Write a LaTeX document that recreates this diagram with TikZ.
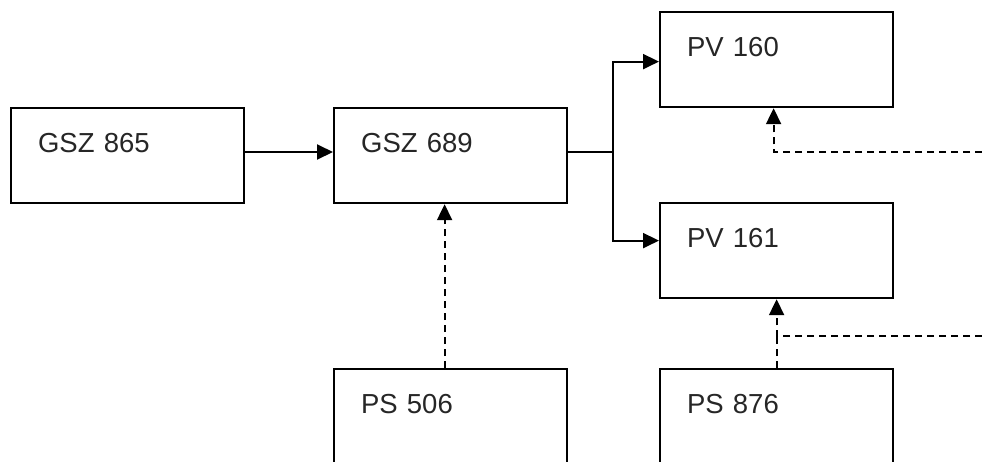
\documentclass[tikz,border=0pt]{standalone}
\usepackage{fontspec}
\setmainfont{Liberation Sans}
\usetikzlibrary{arrows.meta}
\begin{document}
\begin{tikzpicture}[x=1pt,y=-1pt,
  box/.style={draw, line width=2.2pt, anchor=north west, inner xsep=27pt, inner ysep=0pt,
    text width=179pt, align=left, text height=44pt, text depth=51pt,
    font=\fontsize{27.5pt}{27.5pt}\selectfont, text=black!85},
  tallbox/.style={box, text depth=100pt},
  conn/.style={line width=2pt, -{Triangle[length=16pt,width=15pt]}},
  dconn/.style={conn, dash pattern=on 7pt off 5pt},
  dline/.style={line width=2pt, dash pattern=on 7pt off 5pt}]
\useasboundingbox (0,0) rectangle (982,461);
\clip (0,0) rectangle (982,461);
\fill[white] (0,0) rectangle (982,461);
\node[box] (g865) at (10,107) {GSZ 865};
\node[box] (g689) at (333,107) {GSZ 689};
\node[box] (pv160) at (659,11) {PV 160};
\node[box] (pv161) at (659,202) {PV 161};
\node[tallbox] (ps506) at (333,368) {PS 506};
\node[tallbox] (ps876) at (659,368) {PS 876};
\coordinate (br) at (613,152);
\coordinate (e1) at (982,152);
\coordinate (e2) at (982,336);
\coordinate (j2) at (776,336);
\draw[conn] (g865.east |- br) -- (g689.west |- br);
\draw[line width=2pt] (g689.east |- br) -- (br);
\draw[conn] (br) |- ([yshift=-2pt]pv160.west);
\draw[conn] (br) |- ([yshift=10pt]pv161.west);
\draw[dconn] (e1) -| ([xshift=-3pt]pv160.south);
\draw[dconn] ([xshift=-6pt]ps506.north) -- ([xshift=-6pt]g689.south);
\draw[dconn] (e2) -| (pv161.south);
\draw[dline] (ps876.north) -- (pv161.south |- j2);
\end{tikzpicture}
\end{document}
